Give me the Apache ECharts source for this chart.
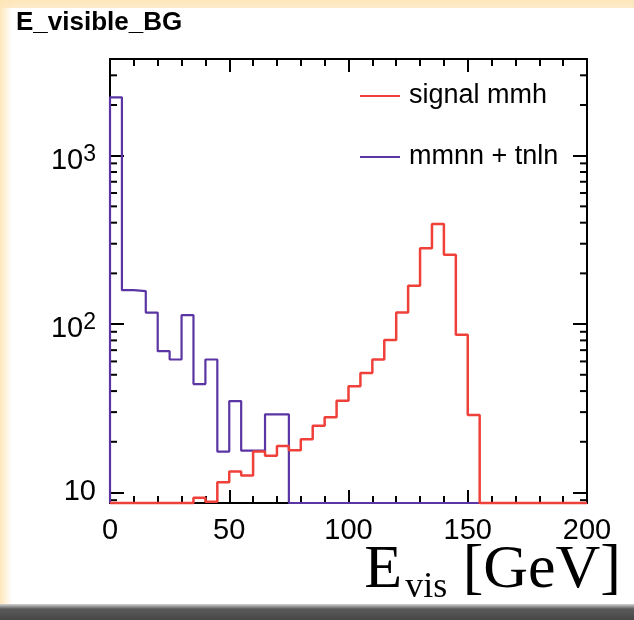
<!DOCTYPE html>
<html><head><meta charset="utf-8">
<script src="https://cdn.jsdelivr.net/npm/echarts@6/dist/echarts.min.js"></script>
<style>
html,body{margin:0;padding:0;width:634px;height:620px;overflow:hidden;background:#fff;}
#bgtop{position:absolute;left:0;top:0;width:634px;height:8px;background:linear-gradient(#fde6ba,#fdebc9);}
#bgleft{position:absolute;left:0;top:0;width:12px;height:604px;background:linear-gradient(to right,#fde6ba,rgba(255,255,255,0));}
#bgbot{position:absolute;left:0;top:604px;width:634px;height:16px;background:linear-gradient(#d4d4d4,#5a5a5a 5px,#474747);}
#chart{position:absolute;left:0;top:0;width:634px;height:620px;}
</style></head><body>
<div id="bgtop"></div><div id="bgleft"></div><div id="bgbot"></div>
<div id="chart"></div>
<script>
// ---- data ----
const binLow = [0,5,10,15,20,25,30,35,40,45,50,55,60,65,70,75,80,85,90,95,
                100,105,110,115,120,125,130,135,140,145,150,155,160,165,170,175,180,185,190,195];
const binHigh = 200;
const signalMmh = [0,0,0,0,0,0,0,9.3,8.8,11.5,13.3,12.6,17.5,16.5,18.9,17.8,20.7,24.9,28.0,35.1,
                   42.7,51.2,61.6,80.4,117,169,282,393,258,86.4,28.8,0,0,0,0,0,0,0,0,0];
const mmnnTnln = [2220,159,157,117,69,61.6,113,44,61.6,17.5,34.9,17.7,17.7,29.1,29.1,0,0,0,0,0,
                  0,0,0,0,0,0,0,0,0,0,0,0,0,0,0,0,0,0,0,0];
const xTickLabels = [0,50,100,150,200];
const yMinorTicks = [9,20,30,40,50,60,70,80,90,200,300,400,500,600,700,800,900,2000,3000];
const seriesNames = ['signal mmh','mmnn + tnln'];
const titleText = 'E_visible_BG';
const xTitle = {main:'E', sub:'vis', unit:' [GeV]'};

// ---- helpers ----
const X_MIN = 0, X_MAX = 200, Y_MIN = 8.66, Y_MAX = 3750;
const FONT = 'Liberation Sans, Arial, Helvetica, sans-serif';
const SERIF = 'Liberation Serif, Times New Roman, serif';
function stepData(vals){
  const c = v => Math.max(v, Y_MIN);
  const pts = [[binLow[0], Y_MIN]];
  vals.forEach((v,i)=>pts.push([binLow[i], c(v)]));
  pts.push([binHigh, c(vals[vals.length-1])]);
  pts.push([binHigh, Y_MIN]);
  return pts;
}
const chart = echarts.init(document.getElementById('chart'), null, {renderer:'canvas'});
const axisLine = {show:true, onZero:false, lineStyle:{color:'#000', width:2}};
const xCommon = {
  type:'value', min:X_MIN, max:X_MAX, interval:50,
  axisLine:axisLine,
  axisTick:{show:true, inside:true, length:13, lineStyle:{color:'#000', width:2}},
  minorTick:{show:true, splitNumber:5, length:7, lineStyle:{color:'#000', width:2}},
  splitLine:{show:false}, minorSplitLine:{show:false}
};
const yCommon = {
  type:'log', logBase:10, min:Y_MIN, max:Y_MAX,
  axisLine:axisLine,
  axisTick:{show:true, inside:true, length:14, lineStyle:{color:'#000', width:2}},
  splitLine:{show:false}
};
function yLabel(v){
  const e = Math.log10(v);
  const r = Math.round(e);
  if (Math.abs(e - r) > 1e-6) return '';
  if (r === 1) return '{c|10}';
  return '{b|10}{p|' + r + '}';
}
const option = {
  animation:false,
  title:{text:titleText, left:16, top:10, padding:0,
    textStyle:{fontSize:26, fontWeight:'bold', fontFamily:FONT, color:'#000'}},
  grid:{left:110, right:47, top:59, bottom:117, containLabel:false, outerBoundsMode:'none'},
  legend:{
    data:seriesNames, orient:'vertical', left:360, top:81, padding:0, itemGap:31,
    icon:'rect', itemWidth:40, itemHeight:2,
    textStyle:{fontSize:27, fontFamily:FONT, color:'#000', lineHeight:30, padding:[0,0,0,4]},
    selectedMode:false
  },
  graphic:[{
    type:'text', right:13, top:540, silent:true,
    style:{
      text:'{e|' + xTitle.main + '}{s|' + xTitle.sub + '}{e|' + xTitle.unit + '}',
      rich:{
        e:{fontFamily:SERIF, fontSize:62, lineHeight:62, fill:'#000', verticalAlign:'top'},
        s:{fontFamily:SERIF, fontSize:36, lineHeight:36, fill:'#000', verticalAlign:'top', padding:[30,0,0,3]}
      }
    }
  }],
  xAxis:[
    Object.assign({}, xCommon, {position:'bottom',
      axisLabel:{show:true, fontSize:29, fontFamily:FONT, color:'#000', margin:13,
        formatter: v => xTickLabels.indexOf(v) >= 0 ? String(v) : ''}
    }),
    Object.assign({}, xCommon, {position:'top', axisLabel:{show:false}})
  ],
  yAxis:[
    Object.assign({}, yCommon, {position:'left',
      axisLabel:{show:true, margin:14, formatter:yLabel, color:'#000',
        rich:{
          b:{fontSize:29, fontFamily:FONT, color:'#000', lineHeight:30, padding:[10,0,0,0]},
          p:{fontSize:23, fontFamily:FONT, color:'#000', lineHeight:23, padding:[0,0,3,0]},
          c:{fontSize:29, fontFamily:FONT, color:'#000', lineHeight:30}
        }}}),
    Object.assign({}, yCommon, {position:'right', axisLabel:{show:false}})
  ],
  series:[
    {name:seriesNames[0], type:'line', step:'end', data:stepData(signalMmh),
     symbol:'none', clip:false, color:'#f0403a', lineStyle:{color:'#f0403a', width:2.5}, z:4, silent:true},
    {name:seriesNames[1], type:'line', step:'end', data:stepData(mmnnTnln),
     symbol:'none', clip:false, color:'#5a35a3', lineStyle:{color:'#5a35a3', width:2.2}, z:3, silent:true},
    {name:'yMinor', type:'custom', data:yMinorTicks.map(v=>[X_MIN, v]), silent:true, clip:false, z:2,
     renderItem:(params, api)=>{
       const v = api.value(1);
       const pL = api.coord([X_MIN, v]);
       const pR = api.coord([X_MAX, v]);
       const st = {stroke:'#000', lineWidth:2};
       return {type:'group', children:[
         {type:'line', shape:{x1:pL[0], y1:pL[1], x2:pL[0]+7, y2:pL[1]}, style:st},
         {type:'line', shape:{x1:pR[0]-7, y1:pR[1], x2:pR[0], y2:pR[1]}, style:st}
       ]};
     }}
  ]
};
chart.setOption(option);
</script>
</body></html>
